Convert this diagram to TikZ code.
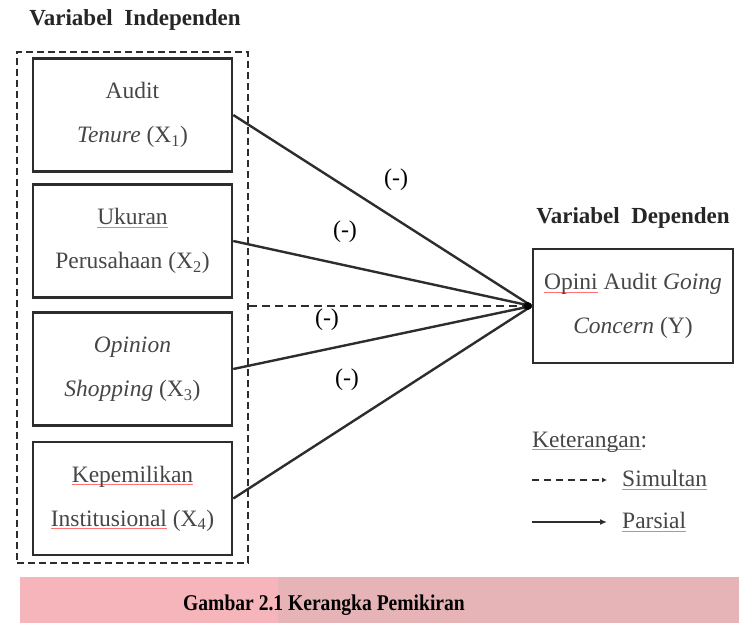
\documentclass[tikz,border=0pt]{standalone}
\usepackage{fontspec}
\setmainfont{Liberation Serif}
\usetikzlibrary{arrows.meta}
\definecolor{txtgray}{RGB}{70,70,70}
\definecolor{linegray}{RGB}{45,45,45}
\definecolor{pinkA}{RGB}{246,181,186}
\definecolor{pinkB}{RGB}{230,180,183}
\newcommand\redul[1]{\setbox0\hbox{#1}\rlap{\color{red!55}\rule[-3pt]{\wd0}{0.7pt}}\box0\relax}
\tikzset{
  varbox/.style={draw=linegray, line width=2.6pt, minimum width=199pt, minimum height=113pt,
    align=center, text=txtgray, font=\fontsize{23.5}{44}\selectfont, inner sep=0pt},
  grpbox/.style={draw=linegray, line width=2.4pt, dash pattern=on 7pt off 4pt,
    minimum width=231pt, minimum height=511pt, inner sep=0pt},
  title/.style={font=\fontsize{23}{26}\selectfont\bfseries, text=black!85},
  link/.style={draw=linegray, line width=2.4pt},
  simlink/.style={draw=linegray, line width=2.2pt, dash pattern=on 8pt off 5pt},
  sign/.style={font=\fontsize{24}{26}\selectfont, text=black},
  legtext/.style={font=\fontsize{23.5}{26}\selectfont, text=txtgray, anchor=west, inner sep=0pt}
}
\begin{document}
\begin{tikzpicture}[x=1pt,y=-1pt]
\useasboundingbox (0,0) rectangle (739,623);
% caption bar
\fill[pinkA] (20,577) rectangle (278,623);
\fill[pinkB] (278,577) rectangle (739,623);
\node[font=\fontsize{22.5}{26}\selectfont\bfseries] (cap) at (324,605) {\scalebox{0.87}[1]{Gambar 2.1 Kerangka Pemikiran}};
% titles
\node[title] (tind) at (135,20) {Variabel\ \ Independen};
\node[title] (tdep) at (633,218) {Variabel\ \ Dependen};
% group box
\node[grpbox] (grp) at (132.5,307.5) {};
% independent boxes
\node[varbox] (x1) at (132.5,115) {Audit\\\textit{Tenure} (X\textsubscript{1})};
\node[varbox] (x2) at (132.5,241) {\redul{Ukuran}\\Perusahaan (X\textsubscript{2})};
\node[varbox] (x3) at (132.5,369) {\textit{Opinion}\\\textit{Shopping} (X\textsubscript{3})};
\node[varbox] (x4) at (132.5,498.5) {\redul{Kepemilikan}\\\redul{Institusional} (X\textsubscript{4})};
% dependent box
\node[varbox, minimum width=200pt, minimum height=114pt] (y) at (633,306) {\redul{Opini} Audit \textit{Going}\\\textit{Concern} (Y)};
% connectors
\draw[simlink] (grp.east |- y.west) -- (y.west);
\draw[link] (x1.east) -- (y.west);
\draw[link] (x2.east) -- (y.west);
\draw[link] (x3.east) -- (y.west);
\draw[link] (x4.east) -- (y.west);
\fill[black] ([xshift=-4pt]y.west) circle (4pt);
% signs
\node[sign] (s1) at (396,180) {(-)};
\node[sign] (s2) at (345,232) {(-)};
\node[sign] (s3) at (327,320) {(-)};
\node[sign] (s4) at (347,380) {(-)};
% legend
\node[legtext] (ket) at (532,442) {\redul{Keterangan}:};
\coordinate (l1a) at (532,480);
\coordinate (l1b) at (607,480);
\coordinate (l2a) at (532,522);
\coordinate (l2b) at (607,522);
\draw[simlink, line width=2pt, dash pattern=on 7pt off 5pt, -{Latex[length=5pt,width=5pt]}] (l1a) -- (l1b);
\draw[link, line width=2pt, -{Latex[length=7pt,width=6pt]}] (l2a) -- (l2b);
\node[legtext] (sim) at (622,480) {\redul{Simultan}};
\node[legtext] (par) at (622,522) {\redul{Parsial}};
\end{tikzpicture}
\end{document}
